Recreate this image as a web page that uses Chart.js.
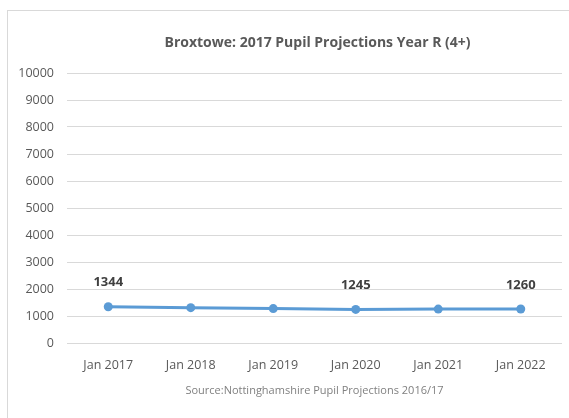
<!DOCTYPE html>
<html>
<head>
<meta charset="utf-8">
<script src="https://cdn.jsdelivr.net/npm/chart.js@4/dist/chart.umd.min.js"></script>
<style>
  html, body { margin: 0; padding: 0; background: #fff; }
  #wrap { position: relative; width: 569px; height: 418px; }
</style>
</head>
<body>
<div id="wrap"><canvas id="pupilChart" width="569" height="418"></canvas></div>
<script>
// Broxtowe Year R projections
const years = ['Jan 2017', 'Jan 2018', 'Jan 2019', 'Jan 2020', 'Jan 2021', 'Jan 2022'];
const pupils = [1344, 1310, 1275, 1245, 1255, 1260];
const labelledPoints = [0, 3, 5];
const yTicks = [0, 1000, 2000, 3000, 4000, 5000, 6000, 7000, 8000, 9000, 10000];
const chartTitle = 'Broxtowe: 2017 Pupil Projections Year R (4+)';

const FONT = "'Open Sans', sans-serif";

// frame around the chart, like the spreadsheet chart area
const framePlugin = {
    id: 'frame',
    beforeDraw(chart) {
        const ctx = chart.ctx;
        ctx.save();
        ctx.strokeStyle = '#d9d9d9';
        ctx.lineWidth = 1;
        ctx.strokeRect(7.5, 10.5, chart.width, chart.height);
        ctx.restore();
    }
};

// title centred over the plot area rather than the whole canvas
const plotTitle = {
    id: 'plotTitle',
    afterDraw(chart) {
        const ctx = chart.ctx;
        const area = chart.chartArea;
        ctx.save();
        ctx.font = 'bold 14px ' + FONT;
        ctx.fillStyle = '#595959';
        ctx.textAlign = 'center';
        ctx.textBaseline = 'middle';
        ctx.fillText(chartTitle, (area.left + area.right) / 2 + 3, 43);
        ctx.restore();
    }
};

// value labels above selected points
const valueLabels = {
    id: 'valueLabels',
    afterDatasetsDraw(chart) {
        const ctx = chart.ctx;
        const meta = chart.getDatasetMeta(0);
        ctx.save();
        ctx.font = 'bold 13px ' + FONT;
        ctx.fillStyle = '#404040';
        ctx.textAlign = 'center';
        ctx.textBaseline = 'middle';
        labelledPoints.forEach(i => {
            const pt = meta.data[i];
            ctx.fillText(String(pupils[i]), pt.x, pt.y - 24);
        });
        ctx.restore();
    }
};

new Chart(document.getElementById('pupilChart'), {
    type: 'line',
    data: {
        labels: years,
        datasets: [{
            data: pupils,
            borderColor: '#5b9bd5',
            backgroundColor: '#5b9bd5',
            borderWidth: 3,
            pointRadius: 4.5,
            pointBorderWidth: 0,
            tension: 0
        }]
    },
    options: {
        responsive: false,
        animation: false,
        layout: { padding: { left: 0, right: 7, top: 73, bottom: 0 } },
        plugins: {
            legend: { display: false },
            tooltip: { enabled: false },
            title: { display: false }
        },
        scales: {
            x: {
                offset: true,
                grid: { display: false, drawTicks: false },
                border: { display: false },
                ticks: { color: '#595959', font: { family: FONT, size: 12.5 }, padding: 15, maxRotation: 0 },
                title: {
                    display: true,
                    text: 'Source:Nottinghamshire Pupil Projections 2016/17',
                    color: '#808080',
                    font: { family: FONT, size: 11, lineHeight: 1.2 },
                    padding: { top: 0, bottom: 21 }
                },
                afterFit(scale) { scale.height = 75; }
            },
            y: {
                min: 0,
                max: 10000,
                afterBuildTicks(scale) { scale.ticks = yTicks.map(v => ({ value: v })); },
                grid: { color: '#d9d9d9', drawTicks: false },
                border: { display: false },
                ticks: {
                    color: '#595959',
                    font: { family: FONT, size: 12.5 },
                    padding: 13,
                    callback: v => String(v)
                },
                afterFit(scale) { scale.width = 67; }
            }
        }
    },
    plugins: [framePlugin, plotTitle, valueLabels]
});
</script>
</body>
</html>
